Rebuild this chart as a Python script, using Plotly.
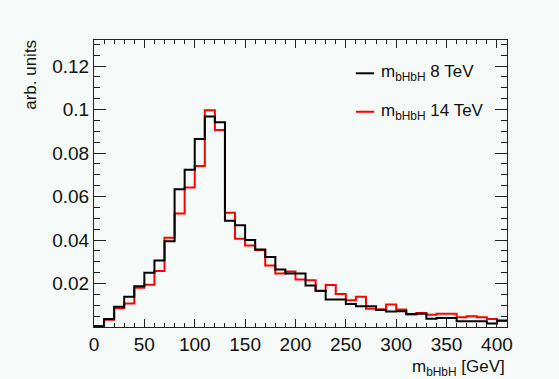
import plotly.graph_objects as go

# ---- data ----
bin_width = 10
bin_edges = [i * bin_width for i in range(42)]  # 0..410 GeV

m_8tev = [0.0004, 0.0037, 0.0093, 0.0139, 0.0187, 0.0249, 0.0306, 0.0394, 0.0634, 0.0723,
          0.0865, 0.0968, 0.0942, 0.0489, 0.0468, 0.0400, 0.0357, 0.0322, 0.0265, 0.0246,
          0.0246, 0.0191, 0.0167, 0.0126, 0.0126, 0.0106, 0.0095, 0.0095, 0.0078, 0.0071,
          0.0072, 0.0060, 0.0061, 0.0038, 0.0041, 0.0041, 0.0026, 0.0026, 0.0026, 0.0016,
          0.0030]
m_14tev = [0.0003, 0.0033, 0.0086, 0.0108, 0.0180, 0.0194, 0.0257, 0.0411, 0.0522, 0.0642,
           0.0740, 0.0997, 0.0906, 0.0526, 0.0406, 0.0375, 0.0354, 0.0283, 0.0246, 0.0255,
           0.0218, 0.0215, 0.0166, 0.0193, 0.0152, 0.0123, 0.0139, 0.0084, 0.0082, 0.0103,
           0.0080, 0.0057, 0.0064, 0.0056, 0.0061, 0.0061, 0.0045, 0.0049, 0.0045, 0.0037,
           0.0028]
y_tickvals = [0.02, 0.04, 0.06, 0.08, 0.1, 0.12]
y_ticktext = ["0.02", "0.04", "0.06", "0.08", "0.1", "0.12"]
series_names = ["m<sub>bHbH</sub> 8 TeV", "m<sub>bHbH</sub> 14 TeV"]
series_colors = ["#000000", "#ff0000"]

BG = "#f6faf8"
FONT = "Liberation Sans, Arial, Helvetica, sans-serif"
TXT = "#111111"

fig = go.Figure()
# red first, black on top
for vals, color in [(m_14tev, series_colors[1]), (m_8tev, series_colors[0])]:
    fig.add_trace(go.Scatter(
        x=bin_edges, y=vals + [vals[-1]], mode="lines",
        line=dict(color=color, width=2, shape="hv"),
        showlegend=False, hoverinfo="skip"))

fig.update_layout(
    width=559, height=379,
    margin=dict(l=94, r=52, t=40, b=52),
    paper_bgcolor=BG, plot_bgcolor=BG,
    font=dict(family=FONT, color=TXT, size=19),
    showlegend=False,
)
fig.update_xaxes(
    range=[0, 410], showgrid=False, zeroline=False,
    showline=True, linecolor="#222222", linewidth=1, mirror="ticks",
    ticks="inside", ticklen=8, tickcolor="#222222", tickwidth=1,
    tick0=0, dtick=50, tickfont=dict(size=19, family=FONT, color=TXT),
    minor=dict(ticks="inside", ticklen=4, dtick=10, tick0=0, tickcolor="#222222", showgrid=False),
)
fig.update_yaxes(
    range=[0, 0.132], showgrid=False, zeroline=False,
    showline=True, linecolor="#222222", linewidth=1, mirror="ticks",
    ticks="inside", ticklen=12, tickcolor="#222222", tickwidth=1,
    tickmode="array", tickvals=y_tickvals, ticktext=y_ticktext,
    tickfont=dict(size=19, family=FONT, color=TXT),
    minor=dict(ticks="inside", ticklen=6, tickmode="linear", tick0=0, dtick=0.005,
               tickcolor="#222222", showgrid=False),
)

# axis titles
fig.add_annotation(xref="paper", yref="paper", x=1.0, y=-0.143, xanchor="right", yanchor="middle",
                   text="m<sub>bHbH</sub> [GeV]", showarrow=False,
                   font=dict(size=17, family=FONT, color=TXT))
fig.add_annotation(xref="paper", yref="paper", x=-0.153, y=1.007, xanchor="center", yanchor="top",
                   text="arb. units", textangle=-90, showarrow=False,
                   font=dict(size=17, family=FONT, color=TXT))

# legend
leg_y = [0.884, 0.750]
for name, color, ly in zip(series_names, series_colors, leg_y):
    fig.add_shape(type="line", xref="paper", yref="paper", x0=0.634, x1=0.678, y0=ly, y1=ly,
                  line=dict(color=color, width=2))
    fig.add_annotation(xref="paper", yref="paper", x=0.690, y=ly, xanchor="left", yanchor="middle",
                       text=name, showarrow=False, font=dict(size=17, family=FONT, color=TXT))

fig.write_html("out.html")
